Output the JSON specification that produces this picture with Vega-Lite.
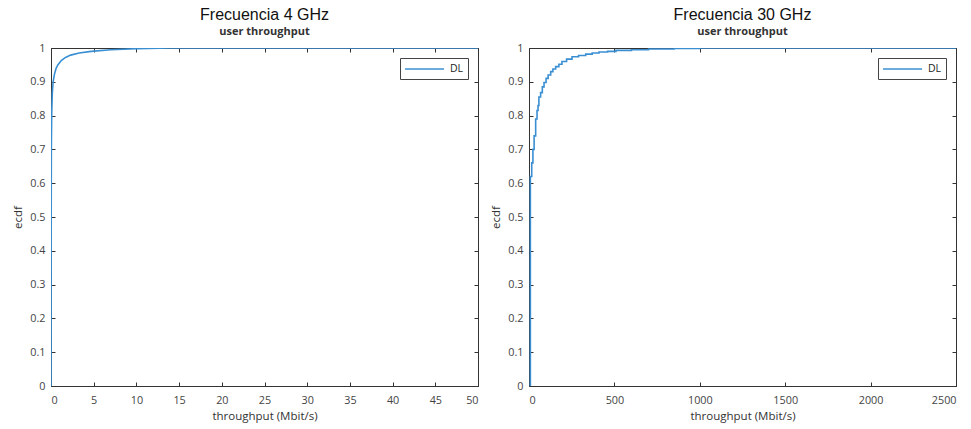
{
  "$schema": "https://vega.github.io/schema/vega-lite/v6.json",
  "background": "white",
  "padding": {"left": 12, "top": 6, "right": 8, "bottom": 2},
  "spacing": 11,
  "config": {
    "view": {"stroke": "#333", "strokeWidth": 1},
    "axis": {
      "grid": false,
      "domain": false,
      "offset": -4,
      "labelFont": "Open Sans",
      "labelFontSize": 10.8,
      "labelColor": "#444",
      "titleFont": "Open Sans",
      "titleFontSize": 11.5,
      "titleFontWeight": "normal",
      "titleColor": "#333",
      "tickColor": "#333",
      "tickSize": 4,
      "labelPadding": 6
    },
    "legend": {
      "orient": "top-right",
      "offset": 10,
      "padding": 4,
      "strokeColor": "#444",
      "fillColor": "white",
      "symbolType": "M-1,0H5.5",
      "symbolSize": 144,
      "symbolStrokeWidth": 1.6,
      "labelFont": "Open Sans",
      "labelFontSize": 10.5,
      "labelColor": "#222",
      "labelOffset": 32,
      "cornerRadius": 0
    },
    "title": {
      "font": "Liberation Sans",
      "fontSize": 16,
      "fontWeight": "normal",
      "color": "#111",
      "subtitleFont": "Open Sans",
      "subtitleFontSize": 11,
      "subtitleFontWeight": "bold",
      "subtitleColor": "#333",
      "subtitlePadding": 3,
      "offset": 5
    }
  },
  "resolve": {"scale": {"color": "independent"}},
  "hconcat": [
    {
      "width": 427,
      "height": 338,
      "title": {"text": "Frecuencia 4 GHz", "subtitle": "user throughput"},
      "data": {"values": [
        {"t": 0, "p": 0, "s": "DL"},
        {"t": 0.02, "p": 0.45, "s": "DL"},
        {"t": 0.04, "p": 0.7, "s": "DL"},
        {"t": 0.08, "p": 0.8, "s": "DL"},
        {"t": 0.15, "p": 0.865, "s": "DL"},
        {"t": 0.25, "p": 0.9, "s": "DL"},
        {"t": 0.4, "p": 0.922, "s": "DL"},
        {"t": 0.6, "p": 0.94, "s": "DL"},
        {"t": 0.8, "p": 0.95, "s": "DL"},
        {"t": 1.2, "p": 0.963, "s": "DL"},
        {"t": 1.7, "p": 0.972, "s": "DL"},
        {"t": 2.3, "p": 0.979, "s": "DL"},
        {"t": 3.3, "p": 0.985, "s": "DL"},
        {"t": 4.7, "p": 0.99, "s": "DL"},
        {"t": 7, "p": 0.995, "s": "DL"},
        {"t": 10, "p": 0.998, "s": "DL"},
        {"t": 14, "p": 1, "s": "DL"},
        {"t": 50, "p": 1, "s": "DL"}
      ]},
      "layer": [
        {
          "mark": {"type": "line", "strokeWidth": 1.6, "clip": true},
          "encoding": {
            "x": {"field": "t", "type": "quantitative", "scale": {"domain": [0, 50], "nice": false},
                  "axis": {"values": [0,5,10,15,20,25,30,35,40,45,50], "format": "d", "title": "throughput (Mbit/s)", "labelPadding": 8, "titlePadding": 6}},
            "y": {"field": "p", "type": "quantitative", "scale": {"domain": [0, 1], "nice": false},
                  "axis": {"values": [0,0.1,0.2,0.3,0.4,0.5,0.6,0.7,0.8,0.9,1], "format": "~g", "title": "ecdf", "labelPadding": 6, "titlePadding": 6}},
            "color": {"field": "s", "type": "nominal", "scale": {"range": ["#3a8fd3"]}, "legend": {"title": null}}
          }
        },
        {
          "mark": {"type": "line", "opacity": 0},
          "encoding": {
            "x": {"field": "t", "type": "quantitative", "axis": {"orient": "top", "values": [0,5,10,15,20,25,30,35,40,45,50], "labels": false, "title": null}},
            "y": {"field": "p", "type": "quantitative", "axis": {"orient": "right", "values": [0,0.1,0.2,0.3,0.4,0.5,0.6,0.7,0.8,0.9,1], "labels": false, "title": null}}
          }
        }
      ],
      "resolve": {"axis": {"x": "independent", "y": "independent"}}
    },
    {
      "width": 427,
      "height": 338,
      "title": {"text": "Frecuencia 30 GHz", "subtitle": "user throughput"},
      "data": {"values": [
        {"t": 8, "p": 0, "s": "DL"},
        {"t": 8, "p": 0.62, "s": "DL"},
        {"t": 16, "p": 0.66, "s": "DL"},
        {"t": 23, "p": 0.7, "s": "DL"},
        {"t": 30, "p": 0.74, "s": "DL"},
        {"t": 39, "p": 0.79, "s": "DL"},
        {"t": 47, "p": 0.815, "s": "DL"},
        {"t": 53, "p": 0.83, "s": "DL"},
        {"t": 58, "p": 0.855, "s": "DL"},
        {"t": 68, "p": 0.868, "s": "DL"},
        {"t": 78, "p": 0.885, "s": "DL"},
        {"t": 88, "p": 0.898, "s": "DL"},
        {"t": 100, "p": 0.91, "s": "DL"},
        {"t": 112, "p": 0.92, "s": "DL"},
        {"t": 127, "p": 0.93, "s": "DL"},
        {"t": 140, "p": 0.938, "s": "DL"},
        {"t": 156, "p": 0.945, "s": "DL"},
        {"t": 175, "p": 0.952, "s": "DL"},
        {"t": 193, "p": 0.96, "s": "DL"},
        {"t": 220, "p": 0.967, "s": "DL"},
        {"t": 252, "p": 0.974, "s": "DL"},
        {"t": 290, "p": 0.978, "s": "DL"},
        {"t": 332, "p": 0.982, "s": "DL"},
        {"t": 370, "p": 0.985, "s": "DL"},
        {"t": 410, "p": 0.988, "s": "DL"},
        {"t": 460, "p": 0.99, "s": "DL"},
        {"t": 509, "p": 0.993, "s": "DL"},
        {"t": 600, "p": 0.995, "s": "DL"},
        {"t": 700, "p": 0.997, "s": "DL"},
        {"t": 850, "p": 0.999, "s": "DL"},
        {"t": 1000, "p": 1, "s": "DL"},
        {"t": 2500, "p": 1, "s": "DL"}
      ]},
      "layer": [
        {
          "mark": {"type": "line", "strokeWidth": 1.6, "interpolate": "step-after", "clip": true},
          "encoding": {
            "x": {"field": "t", "type": "quantitative", "scale": {"domain": [0, 2500], "nice": false},
                  "axis": {"values": [0,500,1000,1500,2000,2500], "format": "d", "title": "throughput (Mbit/s)", "labelPadding": 8, "titlePadding": 6}},
            "y": {"field": "p", "type": "quantitative", "scale": {"domain": [0, 1], "nice": false},
                  "axis": {"values": [0,0.1,0.2,0.3,0.4,0.5,0.6,0.7,0.8,0.9,1], "format": "~g", "title": "ecdf", "labelPadding": 6, "titlePadding": 6}},
            "color": {"field": "s", "type": "nominal", "scale": {"range": ["#3a8fd3"]}, "legend": {"title": null}}
          }
        },
        {
          "mark": {"type": "line", "opacity": 0},
          "encoding": {
            "x": {"field": "t", "type": "quantitative", "axis": {"orient": "top", "values": [0,500,1000,1500,2000,2500], "labels": false, "title": null}},
            "y": {"field": "p", "type": "quantitative", "axis": {"orient": "right", "values": [0,0.1,0.2,0.3,0.4,0.5,0.6,0.7,0.8,0.9,1], "labels": false, "title": null}}
          }
        }
      ],
      "resolve": {"axis": {"x": "independent", "y": "independent"}}
    }
  ]
}
